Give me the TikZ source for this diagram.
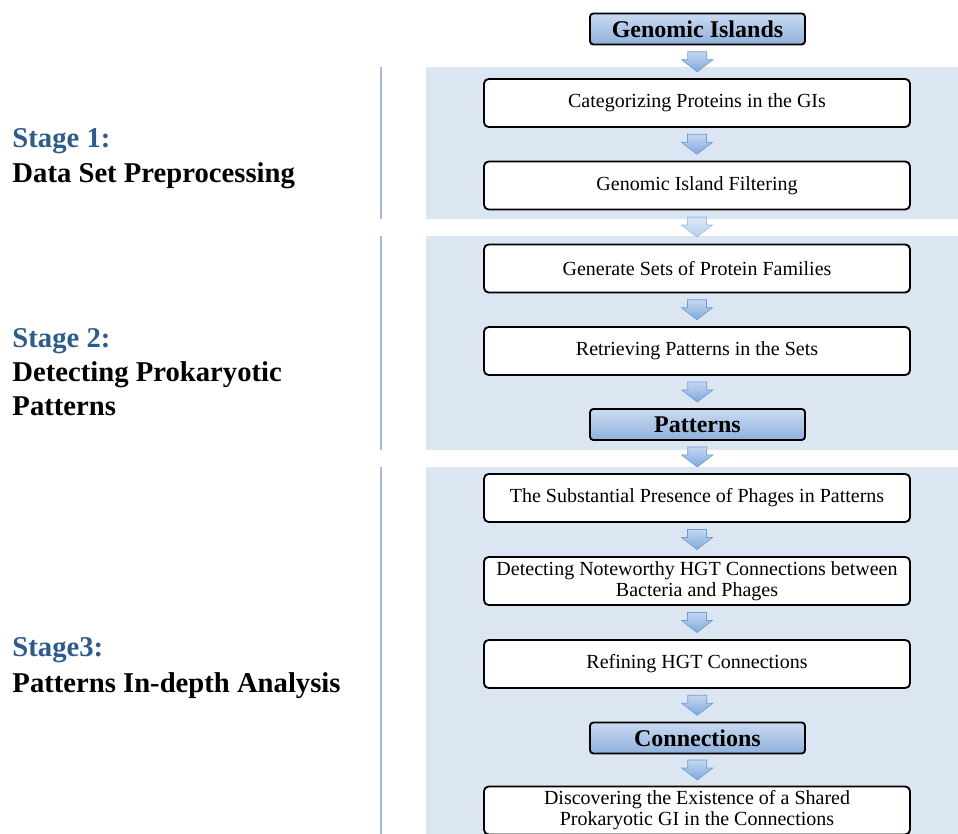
\documentclass[tikz,border=0pt]{standalone}
\usepackage{fontspec}
\setmainfont{Liberation Serif}
\usetikzlibrary{calc}

\definecolor{panelblue}{RGB}{220,230,242}
\definecolor{sideline}{RGB}{160,186,216}
\definecolor{stageblue}{RGB}{46,92,138}
\definecolor{keytop}{RGB}{202,219,241}
\definecolor{keybottom}{RGB}{143,177,220}
\definecolor{arrowtop}{RGB}{196,215,240}
\definecolor{arrowbottom}{RGB}{128,168,222}
\definecolor{arrowedge}{RGB}{112,156,212}

\tikzset{every picture/.style={line width=0.75pt}}
\tikzset{
  stepbox/.style={draw=black, line width=1.4pt, rounded corners=3.5pt, fill=white,
    minimum width=319.5pt, minimum height=36pt, inner sep=0pt, align=center,
    font=\fontsize{15}{15.75}\selectfont},
  keybox/.style={draw=black, line width=1.4pt, rounded corners=2.5pt,
    top color=keytop, bottom color=keybottom,
    minimum width=161.25pt, minimum height=23.25pt, inner sep=0pt,
    font=\bfseries\fontsize{18}{20}\selectfont},
  stagetitle/.style={anchor=base west, inner sep=0pt, text=stageblue,
    font=\bfseries\fontsize{21.5}{26}\selectfont},
  stagetext/.style={anchor=base west, inner sep=0pt,
    font=\bfseries\fontsize{21.5}{26}\selectfont},
  flowarrow/.pic={
    \shade[draw=arrowedge, line width=0.5pt, top color=arrowtop, bottom color=arrowbottom]
      (-9.5,10) -- (9.5,10) -- (9.5,2) -- (15.5,2) -- (0,-10)
      -- (-15.5,2) -- (-9.5,2) -- cycle;
  },
}

\begin{document}
\begin{tikzpicture}[x=0.75pt,y=0.75pt,yscale=-1,xscale=1]
\useasboundingbox (0,0) rectangle (958,834);

%Shape: Stage panels
\fill[panelblue] (426,67) rectangle (958,219);
\fill[panelblue] (426,236) rectangle (958,450);
\fill[panelblue] (426,467) rectangle (958,834);
%Straight Lines: side rules
\draw[sideline, line width=1.5pt] (381,67) -- (381,219);
\draw[sideline, line width=1.5pt] (381,236) -- (381,450);
\draw[sideline, line width=1.5pt] (381,467) -- (381,834);

% Key Nodes
\node[keybox] (gi) at (697.5,29) {Genomic Islands};
\node[keybox] (pat) at (697.5,424.5) {Patterns};
\node[keybox] (conn) at (697.5,738) {Connections};

% Step Nodes
\node[stepbox] (cat) at (697,103) {Categorizing Proteins in the GIs};
\node[stepbox] (filt) at (697,185.5) {Genomic Island Filtering};
\node[stepbox] (fam) at (697,268.5) {Generate Sets of Protein Families};
\node[stepbox] (retr) at (697,351) {Retrieving Patterns in the Sets};
\node[stepbox] (phag) at (697,498) {The Substantial Presence of Phages in Patterns};
\node[stepbox] (hgt) at (697,581) {Detecting Noteworthy HGT Connections between\\Bacteria and Phages};
\node[stepbox] (refi) at (697,664) {Refining HGT Connections};
\node[stepbox] (shar) at (697,810.5) {Discovering the Existence of a Shared\\Prokaryotic GI in the Connections};

% Block Arrows
\pic at ($(gi.south)!0.5!(cat.north)$) {flowarrow};
\pic at ($(cat.south)!0.5!(filt.north)$) {flowarrow};
\pic[opacity=0.55] at ($(filt.south)!0.5!(fam.north)$) {flowarrow};
\pic at ($(fam.south)!0.5!(retr.north)$) {flowarrow};
\pic at ($(retr.south)!0.5!(pat.north)$) {flowarrow};
\pic at ($(pat.south)!0.5!(phag.north)$) {flowarrow};
\pic at ($(phag.south)!0.5!(hgt.north)$) {flowarrow};
\pic at ($(hgt.south)!0.5!(refi.north)$) {flowarrow};
\pic at ($(refi.south)!0.5!(conn.north)$) {flowarrow};
\pic at ($(conn.south)!0.5!(shar.north)$) {flowarrow};

% Stage Labels
\node[stagetitle] (s1) at (12,148) {Stage 1:};
\node[stagetext] (s1a) at (12,182.5) {Data Set Preprocessing};
\node[stagetitle] (s2) at (12,348) {Stage 2:};
\node[stagetext] (s2a) at (12,382) {Detecting Prokaryotic};
\node[stagetext] (s2b) at (12,416) {Patterns};
\node[stagetitle] (s3) at (12,657) {Stage3:};
\node[stagetext] (s3a) at (12,692) {Patterns In-depth Analysis};

\end{tikzpicture}
\end{document}
